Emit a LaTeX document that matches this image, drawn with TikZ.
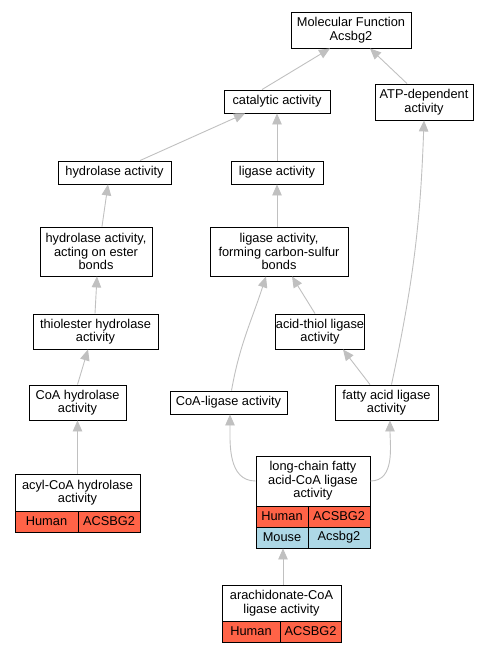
\documentclass[tikz,border=0pt]{standalone}
\usepackage{fontspec}
\setmainfont{Liberation Sans}
\usetikzlibrary{arrows.meta}

\definecolor{humanred}{HTML}{FF6347}
\definecolor{mouseblue}{HTML}{ADD8E6}
\definecolor{edgegray}{HTML}{C0C0C0}

\begin{document}
\begin{tikzpicture}[x=1pt, y=-1pt,
        % GO term boxes: black border, white fill
        term/.style={rectangle, draw=black, line width=0.9pt, fill=white,
            inner sep=0pt, align=center,
            font=\fontsize{12.8}{13.5}\selectfont},
        % gene cells below a term, one colour per species
        human/.style={rectangle, draw=black, line width=0.9pt, fill=humanred,
            inner sep=0pt, minimum height=21pt,
            font=\fontsize{12.8}{13.5}\selectfont},
        mouse/.style={human, fill=mouseblue},
        % is-a links point to the parent term
        isa/.style={draw=edgegray, line width=0.9pt,
            -{Triangle[length=11pt, width=9.5pt]}},
        ]

        \useasboundingbox (0,0) rectangle (491,653);

        % === Upper terms ===
        \node[term, minimum width=120pt, minimum height=36pt] (mf) at (351,30) {Molecular Function\\Acsbg2};
        \node[term, minimum width=106pt, minimum height=23pt] (cat) at (277,101.5) {catalytic activity};
        \node[term, minimum width=98pt, minimum height=36pt] (atp) at (424,102) {ATP-dependent\\activity};
        \node[term, minimum width=113pt, minimum height=23pt] (hyd) at (114.5,172.5) {hydrolase activity};
        \node[term, minimum width=92pt, minimum height=23pt] (lig) at (277,172.5) {ligase activity};
        \node[term, minimum width=112pt, minimum height=49pt] (hest) at (96,251.5) {hydrolase activity,\\acting on ester\\bonds};
        \node[term, minimum width=138pt, minimum height=49pt] (lcs) at (279,251.5) {ligase activity,\\forming carbon-sulfur\\bonds};
        \node[term, minimum width=125pt, minimum height=35pt] (thio) at (95.5,331.5) {thiolester hydrolase\\activity};
        \node[term, minimum width=84pt, minimum height=35pt] (ath) at (320,331.5) {acid-thiol ligase\\activity};
        \node[term, minimum width=97pt, minimum height=35pt] (coah) at (77.5,402.5) {CoA hydrolase\\activity};
        \node[term, minimum width=117pt, minimum height=23pt] (coal) at (228.5,402.5) {CoA-ligase activity};
        \node[term, minimum width=103pt, minimum height=35pt] (fal) at (386.5,402.5) {fatty acid ligase\\activity};

        % === Annotated terms with gene rows ===
        \node[term, minimum width=125pt, minimum height=37pt] (acyl) at (77.5,492.5) {acyl-CoA hydrolase\\activity};
        \node[human, minimum width=63pt] (acylh1) at (46.5,521.5) {Human};
        \node[human, minimum width=62pt] (acylh2) at (109,521.5) {ACSBG2};

        \node[term, minimum width=114pt, minimum height=50pt] (lcf) at (313,481) {long-chain fatty\\acid-CoA ligase\\activity};
        \node[human, minimum width=52pt] (lcfh1) at (282,516.5) {Human};
        \node[human, minimum width=62pt] (lcfh2) at (339,516.5) {ACSBG2};
        \node[mouse, minimum width=52pt] (lcfm1) at (282,537.5) {Mouse};
        \node[mouse, minimum width=62pt] (lcfm2) at (339,537.5) {Acsbg2};

        \node[term, minimum width=119pt, minimum height=36pt] (arach) at (281.5,603) {arachidonate-CoA\\ligase activity};
        \node[human, minimum width=58pt] (arachh1) at (251,631.5) {Human};
        \node[human, minimum width=61pt] (arachh2) at (310.5,631.5) {ACSBG2};

        % === is-a links ===
        \draw[isa] ([xshift=-15pt]cat.north) -- ([xshift=-21pt]mf.south);
        \draw[isa] ([xshift=-17pt]atp.north) -- ([xshift=19pt]mf.south);
        \draw[isa] ([xshift=25.5pt]hyd.north) -- ([xshift=-32pt]cat.south);
        \draw[isa] (lig.north) -- (cat.south);
        \draw[isa] ([xshift=6pt]hest.north) -- ([xshift=-6.5pt]hyd.south);
        \draw[isa] ([xshift=-2pt]lcs.north) -- (lig.south);
        \draw[isa] ([xshift=-0.5pt]thio.north) -- ([xshift=1pt]hest.south);
        \draw[isa] ([xshift=-5pt]ath.north) -- ([xshift=13pt]lcs.south);
        \draw[isa] ([xshift=3pt]coal.north) to[out=80, in=-108] ([xshift=-13pt]lcs.south);
        \draw[isa] ([xshift=-16.5pt]fal.north) -- ([xshift=23pt]ath.south);
        \draw[isa] ([xshift=5pt]fal.north) to[out=78, in=-92] (atp.south);
        \draw[isa] (coah.north) -- ([xshift=-7.5pt]thio.south);
        \draw[isa] (acyl.north) -- (coah.south);
        \draw[isa] (lcf.west) to[out=180, in=-90] ([xshift=1.5pt]coal.south);
        \draw[isa] (lcf.east) to[out=0, in=-90] ([xshift=3.5pt]fal.south);
        \draw[isa] ([xshift=1.5pt]arach.north) -- ([xshift=1pt]lcfm1.south);

    \end{tikzpicture}
\end{document}
